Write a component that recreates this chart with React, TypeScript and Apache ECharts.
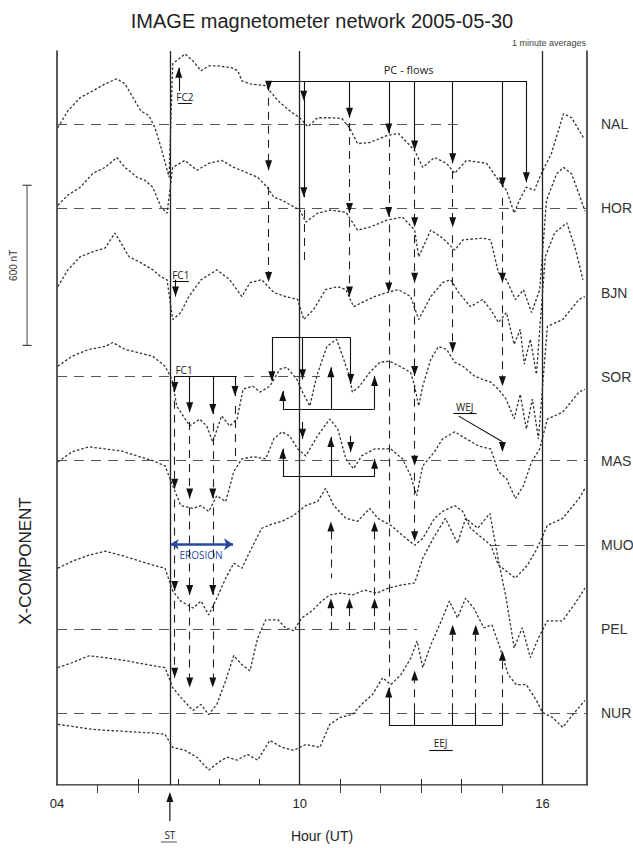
import React, { useEffect, useRef } from "react";
import * as echarts from "echarts";

// ---------- data ----------
const STATIONS = ["NAL", "HOR", "BJN", "SOR", "MAS", "MUO", "PEL", "NUR"];
const BASELINES = [2475, 2160, 1845, 1530, 1215, 900, 585, 270]; // nT offsets of each station trace
const X_LABELS = [4, 10, 16];
const TOP_TICKS = [5, 6, 11, 12, 13, 14, 15];
const BOTTOM_TICKS = [6, 7, 8, 9, 11, 13, 14];
const EVENT_LINES = [6.79, 10, 16];
const BASELINE_SPANS: (number[] | null)[] = [[4, 13.9], [4, 17.1], null, [4, 10.5], [4, 17.1], [14.7, 17.1], [4, 12.9], [4, 17.1]];

// station X-component deviations [hour, nT]
const NAL = [[4.02,-12],[4.27,51],[4.57,100],[4.89,126],[5.19,152],[5.48,171],[5.68,152],[5.88,100],[6.07,51],[6.27,33],[6.42,-12],[6.57,-86],[6.77,-198],
[6.86,227],[7.01,245],[7.16,264],[7.36,238],[7.56,201],[7.75,219],[8.0,219],[8.32,212],[8.47,201],[8.57,163],[8.77,152],[9.16,145],[9.26,126],[9.46,89],[9.75,51],[10.0,25],[10.2,-8],[10.44,25],[10.74,25],[11.04,22],[11.23,-12],[11.43,-72],[11.73,-68],[12.15,-42],[12.44,-34],[12.84,-98],[13.04,-161],[13.33,-124],[13.63,-146],[13.83,-183],[14.12,-135],[14.62,-146],[14.91,-209],[15.11,-247],[15.3,-332],[15.43,-284],[15.6,-235],[15.8,-247],[15.95,-191],[16.22,-109],[16.52,40],[16.72,25],[17.01,-49]];
const HOR = [[4.02,12],[4.27,50],[4.57,79],[4.89,132],[5.19,154],[5.48,191],[5.68,154],[5.98,117],[6.17,106],[6.37,79],[6.57,5],[6.72,-18],
[6.86,154],[7.16,180],[7.46,143],[7.75,169],[8.07,180],[8.37,154],[8.67,135],[8.96,117],[9.2,79],[9.36,42],[9.56,31],[10.0,-6],[10.15,-51],[10.44,-18],[10.74,-6],[11.14,-14],[11.43,-81],[11.73,-70],[12.15,-44],[12.54,-32],[12.84,-81],[12.94,-181],[13.24,-81],[13.53,-111],[13.83,-156],[14.03,-118],[14.52,-111],[14.72,-118],[14.91,-240],[15.11,-267],[15.33,-341],[15.53,-305],[15.73,-390],[15.93,-305],
[16.1,31],[16.35,130],[16.52,154],[16.72,130],[16.9,55],[17.05,-10]];
const BJN = [[4.02,22],[4.27,85],[4.57,134],[4.89,153],[5.19,167],[5.43,223],[5.58,186],[5.78,134],[6.07,112],[6.37,85],[6.57,59],[6.72,48],
[6.86,-101],[7.06,-75],[7.26,-15],[7.56,48],[7.95,85],[8.27,48],[8.57,-15],[8.77,37],[9.06,48],[9.36,0],[9.65,-15],[9.95,-26],[10.1,-101],[10.34,-64],[10.64,11],[10.94,22],[11.14,11],[11.33,-53],[11.53,-38],[11.85,-15],[12.15,0],[12.44,11],[12.74,-15],[12.94,-101],[13.24,-15],[13.53,37],[13.73,48],[13.93,0],[14.22,-53],[14.52,-26],[14.72,-64],[14.91,-112],[15.11,-75],[15.3,-194],[15.45,-138],[15.55,-268],[15.7,-175],[15.85,-306],[15.95,-101],
[16.07,134],[16.3,224],[16.6,261],[16.8,171],[17.0,48]];
const SOR = [[4.02,39],[4.37,76],[4.79,102],[5.19,113],[5.38,128],[5.68,102],[5.98,91],[6.37,76],[6.67,39],
[6.84,-10],[6.96,-110],[7.28,-185],[7.53,-159],[7.7,-185],[7.85,-245],[8.07,-147],[8.27,-185],[8.45,-159],[8.6,-47],[8.84,-36],[9.02,-58],[9.26,-36],[9.51,28],[9.68,35],[9.93,-10],[10.07,-58],[10.25,-110],[10.42,2],[10.67,113],[10.91,140],[11.06,76],[11.23,2],[11.3,-58],[11.48,-36],[11.73,16],[11.98,54],[12.22,58],[12.47,39],[12.74,16],[12.84,-36],[12.94,-110],[13.04,-36],[13.24,65],[13.43,113],[13.63,102],[13.83,54],[14.03,39],[14.32,2],[14.52,-10],[14.72,-21],[14.91,-47],[15.1,-84],[15.3,-158],[15.45,-66],[15.6,-196],[15.75,-84],[15.9,-233],
[16.12,188],[16.5,214],[16.9,289],[17.05,300]];
const MAS = [[4.02,-4],[4.37,33],[4.79,52],[5.19,44],[5.58,37],[5.98,18],[6.37,0],[6.67,-19],
[6.86,-94],[7.06,-168],[7.36,-179],[7.56,-168],[7.75,-190],[7.95,-131],[8.17,-153],[8.37,-41],[8.57,7],[8.86,15],[9.16,7],[9.36,82],[9.56,108],[9.75,93],[9.95,44],[10.15,18],[10.44,93],[10.74,156],[10.94,119],[11.14,7],[11.33,-30],[11.53,18],[11.85,44],[12.25,44],[12.54,7],[12.74,-56],[12.89,-131],[13.04,-19],[13.33,33],[13.53,82],[13.83,108],[14.12,82],[14.42,55],[14.72,44],[14.91,-41],[15.11,-67],[15.33,-142],[15.53,-94],[15.73,-4],[15.93,44],
[16.12,156],[16.5,182],[16.9,257],[17.05,268]];
const MUO = [[4.02,-88],[4.37,-62],[4.79,-39],[5.19,-24],[5.58,-39],[5.98,-58],[6.37,-76],[6.67,-88],
[6.86,-173],[7.06,-211],[7.36,-237],[7.56,-211],[7.75,-263],[7.95,-200],[8.17,-125],[8.37,-69],[8.57,-88],[8.77,-24],[9.06,62],[9.36,80],[9.56,88],[9.85,110],[10.15,147],[10.44,162],[10.64,211],[10.84,147],[11.14,99],[11.43,88],[11.73,136],[11.93,99],[12.25,73],[12.54,35],[12.84,-2],[13.04,24],[13.33,99],[13.53,125],[13.83,147],[14.03,125],[14.22,62],[14.52,24],[14.72,-2],[14.91,-76],[15.11,-99],[15.33,-125],[15.63,-76],[15.83,-24],[15.98,24],
[16.12,73],[16.5,99],[16.9,173],[17.05,211]];
const PEL = [[4.02,-145],[4.37,-127],[4.79,-101],[5.19,-108],[5.58,-116],[5.98,-127],[6.37,-138],[6.67,-145],
[6.86,-220],[7.06,-257],[7.36,-306],[7.56,-283],[7.75,-321],[7.95,-283],[8.17,-194],[8.37,-100],[8.57,-134],[8.77,-157],[8.96,-34],[9.16,34],[9.46,34],[9.65,4],[9.85,-7],[10.05,41],[10.3,67],[10.54,104],[10.74,127],[11.0,134],[11.3,127],[11.6,145],[11.9,134],[12.2,153],[12.5,164],[12.84,172],[13.04,265],[13.3,339],[13.6,414],[13.9,321],[14.1,414],[14.4,377],[14.7,433],[14.9,265],[15.1,116],[15.3,-71],[15.5,4],[15.7,-108],[15.9,-34],
[16.12,30],[16.5,30],[16.9,116],[17.05,153]];
const NUR = [[4.02,-43],[4.37,-50],[4.79,-60],[5.19,-65],[5.58,-68],[5.98,-72],[6.37,-75],[6.67,-80],
[6.86,-129],[7.16,-140],[7.46,-166],[7.75,-214],[8.0,-184],[8.2,-166],[8.45,-177],[8.7,-155],[8.96,-177],[9.26,-103],[9.56,-129],[9.85,-140],[10.15,-118],[10.5,-129],[10.74,-43],[11.0,-17],[11.3,-6],[11.53,32],[11.8,69],[12.05,132],[12.25,106],[12.5,143],[12.75,207],[12.9,270],[13.04,170],[13.24,255],[13.5,345],[13.7,419],[13.9,356],[14.1,430],[14.3,393],[14.55,319],[14.75,330],[14.95,244],[15.15,144],[15.35,106],[15.6,106],[15.85,47],[16.0,2],[16.25,-17],[16.5,-54],[16.75,-6],[17.05,47]];
const TRACES = [NAL, HOR, BJN, SOR, MAS, MUO, PEL, NUR];

// annotation segments [h1, v1, h2, v2] (hour, nT)
const SOLID_SEGS = [
  [9.23,2638,15.60,2638],[9.23,2638,9.23,2601],[10.10,2638,10.10,2202],[11.23,2638,11.23,2500],[12.20,2638,12.20,2441],
  [12.84,2638,12.84,2377],[13.78,2638,13.78,2329],[15.01,2638,15.01,2239],[15.60,2638,15.60,2258],
  [7.01,2600,7.01,2687],[6.93,1893,6.93,1830],
  [6.91,1532,8.40,1532],[6.91,1532,6.91,1472],[7.28,1532,7.28,1397],[7.85,1532,7.85,1390],[8.40,1532,8.40,1457],
  [9.31,1677,11.26,1677],[9.31,1677,9.31,1513],[10.07,1677,10.07,1520],[11.26,1677,11.26,1502],
  [9.58,1409,11.85,1409],[9.58,1409,9.58,1476],[10.77,1409,10.77,1565],[11.85,1409,11.85,1532],
  [10.07,1360,10.07,1297],[11.26,1308,11.26,1248],
  [9.58,1155,11.85,1155],[9.58,1155,9.58,1260],[10.77,1155,10.77,1304],[11.85,1155,11.85,1222],
  [13.93,1382,15.01,1286],
  [12.20,224,15.01,224],[12.20,224,12.20,365],[12.84,224,12.84,276],[13.78,224,13.78,276],[14.35,224,14.35,276],[15.01,224,15.01,276],
  [6.99,2556,7.33,2556],[6.86,1889,7.26,1889],[13.80,1394,14.37,1394],[13.20,130,13.78,130],
];
const DASHED_SEGS = [
  [9.23,2575,9.23,2303],[9.23,2240,9.23,1885],[10.10,2154,10.10,1950],
  [11.23,2480,11.23,2143],[11.23,2120,11.23,1830],
  [12.20,2420,12.20,2128],[12.20,2100,12.20,1845],[12.20,1800,12.20,402],
  [12.84,2350,12.84,2090],[12.84,2060,12.84,1882],[12.84,1860,12.84,1532],[12.84,1500,12.84,1196],[12.84,1170,12.84,913],[12.84,276,12.84,392],
  [13.78,2300,13.78,2090],[13.78,2060,13.78,1621],[13.78,276,13.78,563],[14.35,276,14.35,563],
  [15.01,2200,15.01,1882],[15.01,1850,15.01,1494],[15.01,276,15.01,466],
  [6.91,1440,6.91,1110],[7.28,1360,7.28,1073],[7.85,1355,7.85,1073],[8.40,1420,8.40,1230],
  [6.91,1070,6.91,727],[7.28,1040,7.28,712],[7.85,1040,7.85,712],
  [6.91,690,6.91,402],[7.28,680,7.28,365],[7.85,680,7.85,365],
  [10.77,950,10.77,775],[11.85,950,11.85,700],[10.77,663,10.77,560],[11.23,663,11.23,560],[11.85,663,11.85,560],
];
const DOWN_TIPS = [
  [9.23,2601],[9.23,2303],[9.23,1885],[10.10,2564],[10.10,2202],
  [11.23,2500],[11.23,2143],[11.23,1830],[12.20,2441],[12.20,2128],[12.20,1845],
  [12.84,2377],[12.84,2090],[12.84,1882],[12.84,1532],[12.84,1196],[12.84,913],
  [13.78,2329],[13.78,2090],[13.78,1621],[15.01,2239],[15.01,1882],[15.01,1494],[15.01,1248],[15.60,2258],
  [6.93,1830],[6.91,1472],[7.28,1397],[7.85,1390],[8.40,1457],
  [6.91,1110],[7.28,1073],[7.85,1073],[6.91,727],[7.28,712],[7.85,712],[6.91,402],[7.28,365],[7.85,365],
  [9.31,1513],[10.07,1520],[11.26,1502],[10.07,1297],[11.26,1248],
];
const UP_TIPS = [
  [7.01,2687],[9.58,1476],[10.77,1565],[11.85,1532],[9.58,1260],[10.77,1304],[11.85,1222],
  [10.77,987],[11.85,987],[10.77,700],[11.23,700],[11.85,700],
  [12.20,365],[12.84,429],[13.78,600],[14.35,600],[15.01,503],
];
const EROSION_SPAN = [6.81, 8.35, 902];
const NOTES = [
  { text: "PC - flows", at: [12.69, 2680], size: 11, color: "#222" },
  { text: "FC2", at: [7.16, 2578], size: 10, color: "#222" },
  { text: "FC1", at: [7.06, 1912], size: 10, color: "#222" },
  { text: "FC1", at: [7.14, 1556], size: 10, color: "#222" },
  { text: "WEJ", at: [14.08, 1418], size: 10, color: "#222" },
  { text: "EEJ", at: [13.48, 157], size: 10, color: "#222" },
  { text: "EROSION", at: [7.56, 861], size: 10, color: "#2b4aa6" },
];
const SCALE_BAR = [3.26, 1647, 2247]; // 600 nT
const ST_HOUR = 6.79;

const FONT = '"Liberation Sans", Arial, sans-serif';
const NOTE_FONT = '"Open Sans", "Liberation Sans", sans-serif';

const segData = (segs: number[][]) => segs.map((s) => ({ coords: [[s[0], s[1]], [s[2], s[3]]] }));

export default function App() {
  const ref = useRef<HTMLDivElement>(null);
  useEffect(() => {
    const chart = echarts.init(ref.current!, null, { renderer: "svg" });
    const series: any[] = [];
    TRACES.forEach((tr, i) => {
      series.push({
        type: "line", name: STATIONS[i], data: tr.map((p) => [p[0], BASELINES[i] + p[1]]),
        showSymbol: false, symbol: "none", silent: true,
        lineStyle: { color: "#333", width: 1.3, type: [2.5, 2] }, z: 3,
      });
    });
    const baseSegs: number[][] = [];
    BASELINE_SPANS.forEach((sp, i) => { if (sp) baseSegs.push([sp[0], BASELINES[i], sp[1], BASELINES[i]]); });
    series.push({ type: "lines", coordinateSystem: "cartesian2d", silent: true, data: segData(baseSegs),
      lineStyle: { color: "#555", width: 1, type: [10, 7], opacity: 1 }, z: 2 });
    series.push({ type: "lines", coordinateSystem: "cartesian2d", silent: true,
      data: EVENT_LINES.map((h) => ({ coords: [[h, 0], [h, 2750]] })),
      lineStyle: { color: "#222", width: 1.3, opacity: 1 }, z: 2 });
    series.push({ type: "lines", coordinateSystem: "cartesian2d", silent: true, data: segData(SOLID_SEGS),
      lineStyle: { color: "#111", width: 1.1, opacity: 1 }, z: 4 });
    series.push({ type: "lines", coordinateSystem: "cartesian2d", silent: true, data: segData(DASHED_SEGS),
      lineStyle: { color: "#222", width: 1.1, type: [8, 6], opacity: 1 }, z: 4 });
    series.push({ type: "scatter", data: DOWN_TIPS, symbol: "triangle", symbolSize: [7, 10], symbolRotate: 180,
      symbolOffset: [0, -5], itemStyle: { color: "#111", opacity: 1 }, silent: true, z: 5 });
    series.push({ type: "scatter", data: UP_TIPS, symbol: "triangle", symbolSize: [7, 10],
      symbolOffset: [0, 5], itemStyle: { color: "#111", opacity: 1 }, silent: true, z: 5 });
    series.push({ type: "lines", coordinateSystem: "cartesian2d", silent: true,
      data: [{ coords: [[EROSION_SPAN[0], EROSION_SPAN[2]], [EROSION_SPAN[1], EROSION_SPAN[2]]] }],
      symbol: ["arrow", "arrow"], symbolSize: [8, 9],
      lineStyle: { color: "#2746a0", width: 2.5, opacity: 1 }, z: 6 });

    chart.setOption({
      animation: false,
      backgroundColor: "#fff",
      textStyle: { fontFamily: FONT },
      grid: { left: 57, right: 46, top: 51, bottom: 60 },
      xAxis: [
        {
          type: "value", min: 4, max: 17.1, position: "bottom",
          axisLine: { lineStyle: { color: "#222", width: 1.5 } },
          axisTick: { inside: true, length: 6, customValues: BOTTOM_TICKS, lineStyle: { color: "#222" } },
          axisLabel: { customValues: X_LABELS, formatter: (v: number) => (v < 10 ? "0" + v : "" + v), fontSize: 13, color: "#222", margin: 12, fontFamily: FONT },
          splitLine: { show: false },
          name: "Hour (UT)", nameLocation: "middle", nameGap: 44,
          nameTextStyle: { fontSize: 14, color: "#222", fontFamily: FONT },
        },
        {
          type: "value", min: 4, max: 17.1, position: "top",
          axisLine: { lineStyle: { color: "#999", width: 1 } },
          axisTick: { inside: true, length: 8, customValues: TOP_TICKS, lineStyle: { color: "#444" } },
          axisLabel: { show: false }, splitLine: { show: false },
        },
      ],
      yAxis: [
        { type: "value", min: 0, max: 2750, position: "left", axisLine: { show: true, lineStyle: { color: "#222", width: 1.5 } },
          axisTick: { show: false }, axisLabel: { show: false }, splitLine: { show: false } },
        { type: "value", min: 0, max: 2750, position: "right", axisLine: { show: true, lineStyle: { color: "#222", width: 1.5 } },
          axisTick: { show: false }, axisLabel: { show: false }, splitLine: { show: false } },
      ],
      series,
    });

    const P = (h: number, v: number) => chart.convertToPixel({ xAxisIndex: 0, yAxisIndex: 0 }, [h, v]) as number[];
    const g: any[] = [];
    g.push({ type: "text", x: 322, y: 21, style: { text: "IMAGE magnetometer network 2005-05-30", fontSize: 20, fontFamily: FONT, fill: "#222", align: "center", verticalAlign: "middle" } });
    g.push({ type: "text", x: 586, y: 43, style: { text: "1 minute averages", fontSize: 9, fontFamily: FONT, fill: "#444", align: "right", verticalAlign: "middle" } });
    STATIONS.forEach((s, i) => {
      const [x, y] = P(17.1, BASELINES[i]);
      g.push({ type: "text", x: x + 14, y, style: { text: s, fontSize: 14, fontFamily: FONT, fill: "#333", align: "left", verticalAlign: "middle" } });
    });
    NOTES.forEach((n) => {
      const [x, y] = P(n.at[0], n.at[1]);
      g.push({ type: "text", x, y, style: { text: n.text, fontSize: n.size, fontFamily: NOTE_FONT, fill: n.color, align: "center", verticalAlign: "middle" } });
    });
    // ST arrow below the axis
    const [sx, sy] = P(ST_HOUR, 0);
    g.push({ type: "line", shape: { x1: sx, y1: sy + 36, x2: sx, y2: sy + 14 }, style: { stroke: "#111", lineWidth: 1.2 } });
    g.push({ type: "polygon", shape: { points: [[sx, sy + 7], [sx - 3.5, sy + 17], [sx + 3.5, sy + 17]] }, style: { fill: "#111" } });
    g.push({ type: "text", x: sx, y: sy + 50, style: { text: "ST", fontSize: 10, fontFamily: NOTE_FONT, fill: "#222", align: "center", verticalAlign: "middle" } });
    g.push({ type: "line", shape: { x1: sx - 9, y1: sy + 57, x2: sx + 7, y2: sy + 57 }, style: { stroke: "#222", lineWidth: 0.8 } });
    // 600 nT scale bar
    const [bx, b1] = P(SCALE_BAR[0], SCALE_BAR[2]);
    const b2 = P(SCALE_BAR[0], SCALE_BAR[1])[1];
    g.push({ type: "line", shape: { x1: bx, y1: b1, x2: bx, y2: b2 }, style: { stroke: "#444", lineWidth: 1 } });
    g.push({ type: "line", shape: { x1: bx - 4.5, y1: b1, x2: bx + 4.5, y2: b1 }, style: { stroke: "#444", lineWidth: 1.2 } });
    g.push({ type: "line", shape: { x1: bx - 4.5, y1: b2, x2: bx + 4.5, y2: b2 }, style: { stroke: "#444", lineWidth: 1.2 } });
    g.push({ type: "text", x: 13, y: (b1 + b2) / 2, rotation: Math.PI / 2, style: { text: "600 nT", fontSize: 10, fontFamily: FONT, fill: "#333", align: "center", verticalAlign: "middle" } });
    g.push({ type: "text", x: 25, y: 561, rotation: Math.PI / 2, style: { text: "X-COMPONENT", fontSize: 17, fontFamily: FONT, fill: "#222", align: "center", verticalAlign: "middle" } });
    chart.setOption({ graphic: g });
    return () => chart.dispose();
  }, []);
  return <div ref={ref} style={{ position: "fixed", left: 0, top: 0, width: 633, height: 848, background: "#fff" }} />;
}
